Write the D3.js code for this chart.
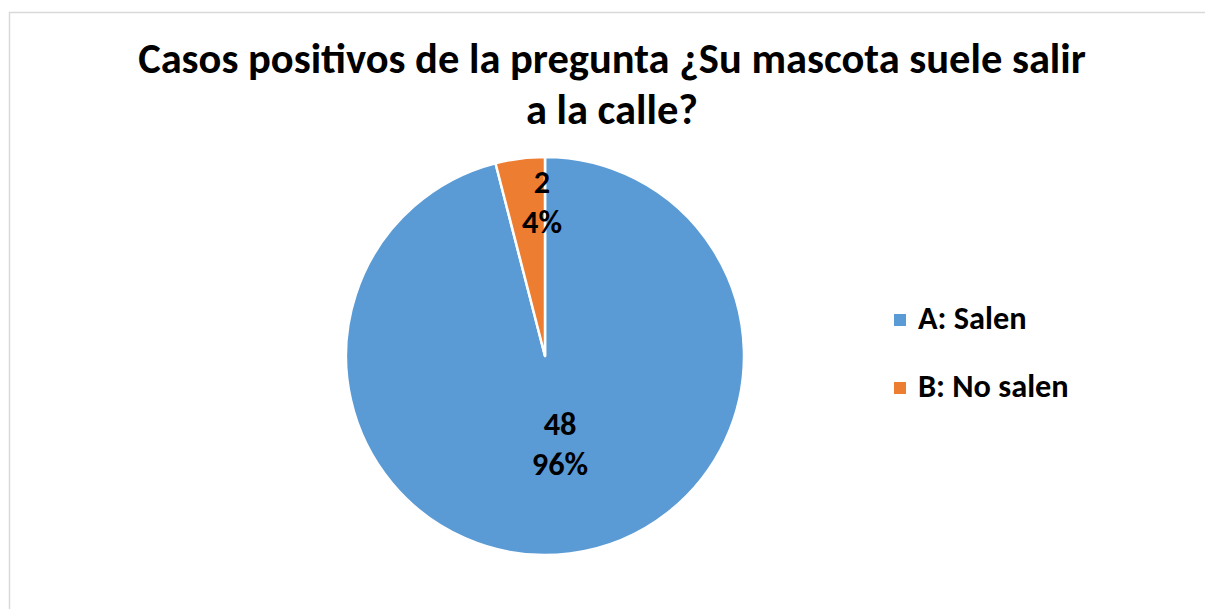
<!DOCTYPE html>
<html>
<head>
<meta charset="utf-8">
<script src="https://cdn.jsdelivr.net/npm/d3@7"></script>
<style>
html,body{margin:0;padding:0;background:#fff;overflow:hidden;}
svg{display:block;}
text{font-family:Carlito, Calibri, Lato, "Open Sans", sans-serif;font-weight:bold;fill:#000;}
</style>
</head>
<body>
<svg id="c" width="1205" height="609"></svg>
<script>
const categories = ["A: Salen", "B: No salen"];
const values = [48, 2];
const colors = ["#5B9BD5", "#ED7D31"];
const titleLines = ["Casos positivos de la pregunta ¿Su mascota suele salir", "a la calle?"];

const svg = d3.select("#c");
svg.append("rect").attr("x",9.5).attr("y",12.5).attr("width",1400).attr("height",800)
  .attr("fill","#fff").attr("stroke","#d9d9d9").attr("stroke-width",1.5);

// title
const t1 = svg.append("text").attr("x",612).attr("y",73).attr("text-anchor","middle")
  .style("font-size","36px").text(titleLines[0]);
const w = t1.node().getComputedTextLength();
const fs = 36 * 948 / w;
t1.style("font-size", fs + "px");
svg.append("text").attr("x",612).attr("y",124).attr("text-anchor","middle")
  .style("font-size", fs + "px").text(titleLines[1]);

// pie
const cx = 545, cy = 356, r = 199;
const total = d3.sum(values);
const pie = d3.pie().sort(null).value(d => d)(values);
const arc = d3.arc().innerRadius(0).outerRadius(r);
const g = svg.append("g").attr("transform", `translate(${cx},${cy})`);
g.selectAll("path").data(pie).enter().append("path")
  .attr("d", arc).attr("fill", (d,i) => colors[i])
  .attr("stroke","#fff").attr("stroke-width",2.5).attr("stroke-linejoin","round");

const lblFs = fs * 0.76;
const labelPos = [[15, 79], [-3, -163]];
pie.forEach((d,i) => {
  const pct = Math.round(values[i] / total * 100) + "%";
  const [x,y] = labelPos[i];
  g.append("text").attr("x",x).attr("y",y).attr("text-anchor","middle")
    .style("font-size", lblFs+"px").text(values[i]);
  g.append("text").attr("x",x).attr("y",y+40).attr("text-anchor","middle")
    .style("font-size", lblFs+"px").text(pct);
});

// legend
const leg = svg.append("g");
const ly = d3.scalePoint().domain(categories).range([329, 397]);
categories.forEach((c,i) => {
  leg.append("rect").attr("x",894).attr("y",ly(c)-15).attr("width",12).attr("height",12).attr("fill",colors[i]);
  leg.append("text").attr("x",918).attr("y",ly(c)).style("font-size", lblFs+"px").text(c);
});
</script>
</body>
</html>
